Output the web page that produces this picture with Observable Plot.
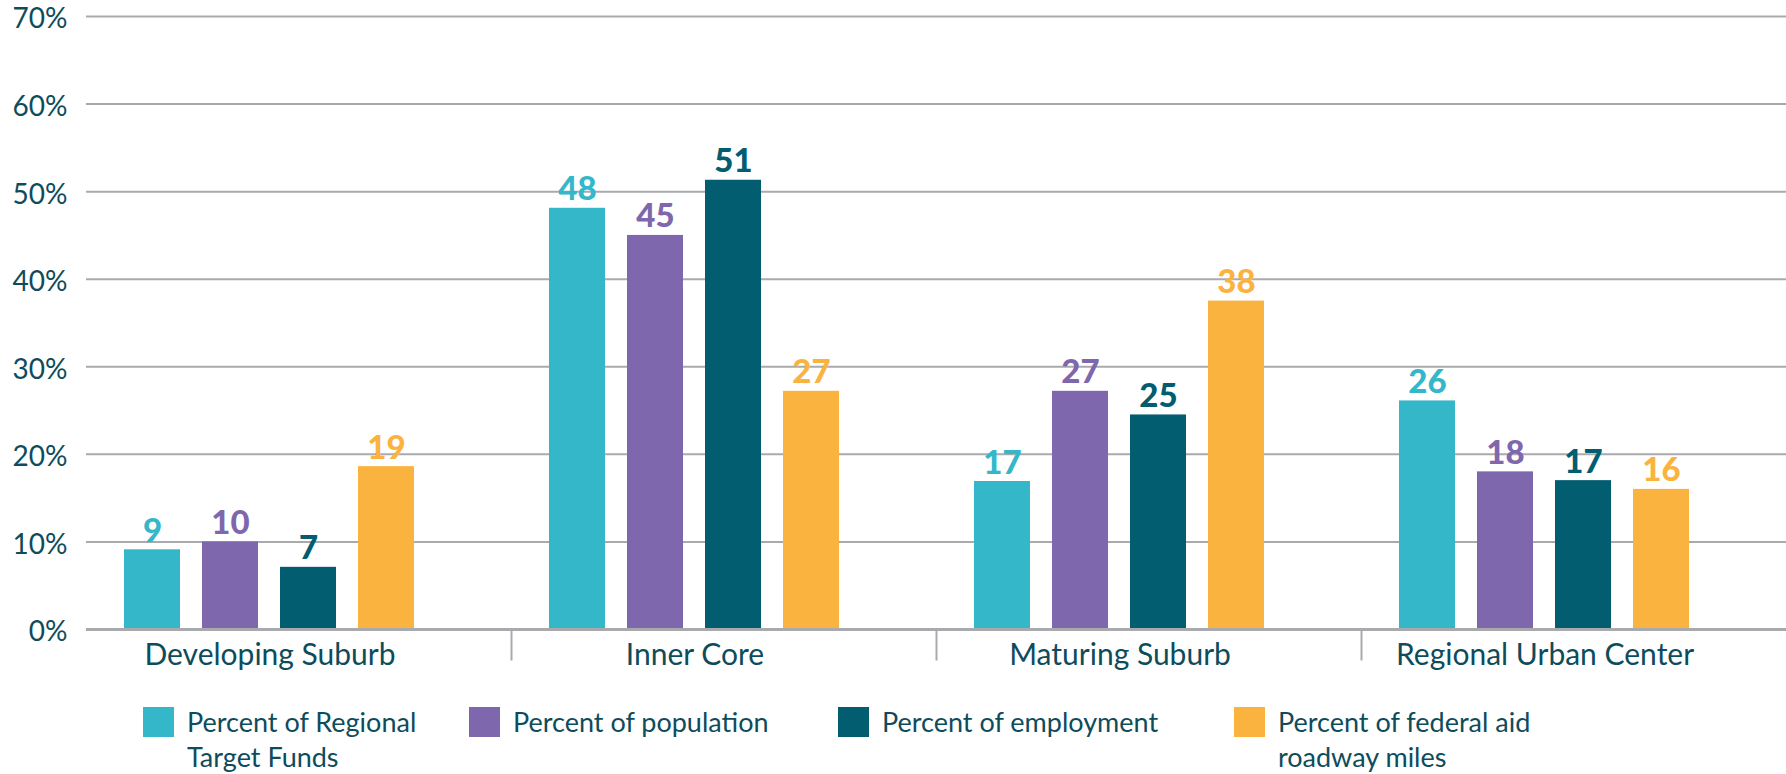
<!DOCTYPE html>
<html><head><meta charset="utf-8">
<script src="https://cdn.jsdelivr.net/npm/d3@7"></script>
<script src="https://cdn.jsdelivr.net/npm/@observablehq/plot@0.6"></script>
<style>
body{margin:0;background:#fff;font-family:Lato,sans-serif;}
#chart{position:relative;width:1786px;height:774px;overflow:hidden;background:#fff}
#chart svg{display:block}
.legend{position:absolute;top:704px;left:0;width:1786px;height:70px}
.item{position:absolute;top:0;display:flex;align-items:flex-start}
.sw{width:31px;height:30px;margin-top:3px;margin-right:13px;flex:none}
.lbl{font-size:27px;line-height:35px;color:#0E4C5C;white-space:nowrap}
</style></head><body><div id="chart"></div>
<script>
// ---- data ----
const groups = ["Developing Suburb", "Inner Core", "Maturing Suburb", "Regional Urban Center"];
const seriesNames = ["Percent of Regional Target Funds", "Percent of population", "Percent of employment", "Percent of federal aid roadway miles"];
const legendLines = [["Percent of Regional", "Target Funds"], ["Percent of population"], ["Percent of employment"], ["Percent of federal aid", "roadway miles"]];
const seriesColors = ["#34B7C9", "#7E67AD", "#025D70", "#FBB340"];
const regionalTargetFunds = [9.1, 48.1, 16.9, 26.1];
const population = [10.0, 45.0, 27.2, 18.0];
const employment = [7.1, 51.3, 24.5, 17.0];
const federalAidMiles = [18.6, 27.2, 37.5, 16.0];
const yTicks = [0, 10, 20, 30, 40, 50, 60, 70];

// ---- layout ----
const W = 1786, H = 686, MT = 16, BASE = 629, ML = 85;
const textColor = "#0E4C5C", gridColor = "#A9AAAD";
const legendLeft = [143, 469, 838, 1234];
const xPadInner = 0.28, xPadOuter = 0.83, xAlign = 0.28;
const facetW = (W - ML) / groups.length;
const xStep = facetW / (seriesNames.length - xPadInner + 2 * xPadOuter);

const seriesValues = [regionalTargetFunds, population, employment, federalAidMiles];
const data = [];
groups.forEach((g, gi) => seriesNames.forEach((s, si) => data.push({group: g, series: s, value: seriesValues[si][gi]})));

const plotH = BASE - MT;
const plot = Plot.plot({
  width: W, height: H, marginTop: MT, marginBottom: H - BASE, marginLeft: ML, marginRight: 0,
  style: {fontFamily: "Lato, sans-serif", color: textColor, background: "white", overflow: "visible"},
  fx: {domain: groups, paddingInner: 0, paddingOuter: 0, label: null, axis: null},
  x: {domain: seriesNames, paddingInner: xPadInner, paddingOuter: xPadOuter, align: xAlign, axis: null},
  y: {domain: [0, 70], label: null},
  color: {domain: seriesNames, range: seriesColors},
  marks: [
    Plot.gridY(yTicks, {stroke: gridColor, strokeOpacity: 1, strokeWidth: 2}),
    Plot.axisY(yTicks, {tickSize: 0, tickPadding: 19, fontSize: 28, dy: 3, tickFormat: d => d + "%", label: null}),
    Plot.barY(data, {fx: "group", x: "series", y: "value", fill: "series"}),
    Plot.text(data, {fx: "group", x: "series", y: "value", text: d => String(Math.round(d.value)), fill: "series",
      fontWeight: 900, fontSize: 33, dy: -8, lineAnchor: "bottom"}),
    Plot.text(groups, {fx: d => d, x: () => seriesNames[1], y: () => 0, text: d => d, dx: xStep / 2, dy: 14,
      lineAnchor: "top", fontSize: 30, fill: textColor}),
    Plot.ruleY([0], {stroke: gridColor, strokeWidth: 3}),
    ...groups.slice(1).map(g => Plot.frame({fx: () => g, anchor: "left", stroke: gridColor, strokeWidth: 2, insetTop: plotH, insetBottom: -30}))
  ]
});
const chart = document.getElementById("chart");
chart.appendChild(plot);

const legend = document.createElement("div");
legend.className = "legend";
seriesNames.forEach((s, i) => {
  const item = document.createElement("div");
  item.className = "item";
  item.style.left = legendLeft[i] + "px";
  const sw = document.createElement("div");
  sw.className = "sw";
  sw.style.background = seriesColors[i];
  const lbl = document.createElement("div");
  lbl.className = "lbl";
  lbl.innerHTML = legendLines[i].join("<br>");
  item.appendChild(sw); item.appendChild(lbl);
  legend.appendChild(item);
});
chart.appendChild(legend);
</script></body></html>
